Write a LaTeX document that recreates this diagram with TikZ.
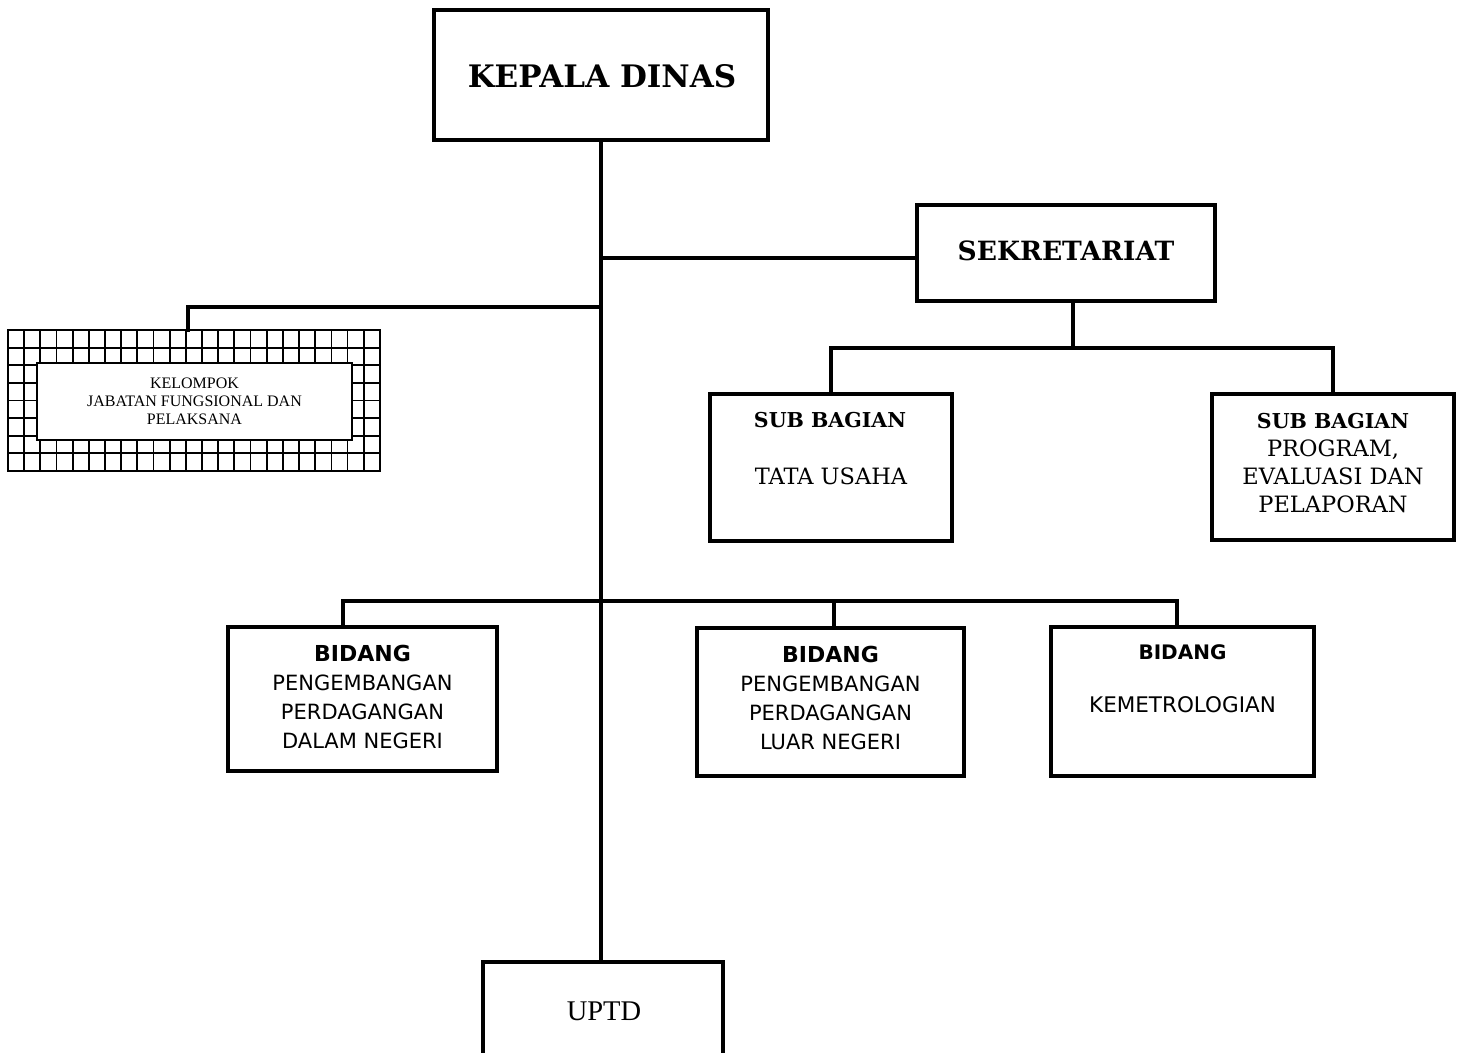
\documentclass[tikz,border=0pt]{standalone}
\usepackage{fontspec}
\setmainfont{Liberation Serif}
\newfontfamily\bookfont{DejaVu Serif}
\newfontfamily\verdfont{DejaVu Sans}
\usetikzlibrary{positioning}

\tikzset{
  unitbox/.style={draw, line width=3.5pt, inner sep=0pt},
  link/.style={line width=4pt, line cap=rect},
  booktxt/.style={font=\bookfont\fontsize{22.5}{28}\selectfont, align=center, inner sep=0pt},
  verdtxt/.style={font=\verdfont\fontsize{21}{29}\selectfont, align=center, inner sep=0pt},
}

\begin{document}
\begin{tikzpicture}[x=1pt,y=-1pt]
\useasboundingbox[fill=white] (0,0) rectangle (1463,1052);

% kepala dinas dan sekretariat
\node[unitbox, minimum width=334, minimum height=130] (kadis) at (601,75) {};
\node[font=\bookfont\bfseries\fontsize{31}{34}\selectfont] (kadistxt) at (602,76) {KEPALA DINAS};
\node[unitbox, minimum width=298, minimum height=96] (sek) at (1066,253) {};
\node[font=\bookfont\bfseries\fontsize{26.5}{30}\selectfont] (sektxt) at (1066,251) {SEKRETARIAT};

% sub bagian
\node[unitbox, minimum width=242, minimum height=147] (tu) at (831,467.5) {};
\node[booktxt] (tu1) at (830,420) {\fontsize{20.5}{28}\selectfont\bfseries SUB BAGIAN};
\node[booktxt] (tu2) at (831,476) {TATA USAHA};
\node[unitbox, minimum width=242, minimum height=146] (prog) at (1333,467) {};
\node[booktxt] (progtxt) at (1333,463) {{\fontsize{20.5}{28}\selectfont\bfseries SUB BAGIAN}\\PROGRAM,\\EVALUASI DAN\\PELAPORAN};

% kelompok jabatan fungsional
\draw[line width=1.8pt] (8,330) rectangle (380,471);
\foreach \i in {1,...,22}
  \draw[line width=1.8pt] (8+\i*16.17,330) -- (8+\i*16.17,471);
\foreach \j in {1,...,7}
  \draw[line width=1.8pt] (8,330+\j*17.6) -- (380,330+\j*17.6);
\node[draw, fill=white, line width=1.8pt, minimum width=315, minimum height=77,
  align=center, font=\fontsize{16}{18}\selectfont] (jf) at (194.5,401.5)
  {KELOMPOK\\JABATAN FUNGSIONAL DAN\\PELAKSANA};
\coordinate (jftop) at (188,330);

% bidang
\node[unitbox, minimum width=269, minimum height=144] (bid1) at (362.5,699) {};
\node[verdtxt] (bid1txt) at (362.5,697) {{\fontsize{22}{29}\selectfont\bfseries BIDANG}\\PENGEMBANGAN\\PERDAGANGAN\\DALAM NEGERI};
\node[unitbox, minimum width=267, minimum height=148] (bid2) at (830.5,702) {};
\node[verdtxt] (bid2txt) at (830.5,698) {{\fontsize{22}{29}\selectfont\bfseries BIDANG}\\PENGEMBANGAN\\PERDAGANGAN\\LUAR NEGERI};
\node[unitbox, minimum width=263, minimum height=149] (bid3) at (1182.5,701.5) {};
\node[verdtxt] (bid3a) at (1182.5,652) {\fontsize{20}{29}\selectfont\bfseries BIDANG};
\node[verdtxt] (bid3b) at (1182.5,705) {\fontsize{21.5}{29}\selectfont KEMETROLOGIAN};

% uptd
\node[unitbox, minimum width=240, minimum height=100] (uptd) at (603,1012) {};
\node[font=\fontsize{28.5}{30}\selectfont] (uptdtxt) at (604,1011) {UPTD};

% garis
\coordinate (sekin) at (917,258);
\coordinate (sekjoint) at (1073,348);
\coordinate (jfjoint) at (600,307);
\coordinate (bidbus) at (600,601);
\coordinate (b1) at (343,601);
\coordinate (b2) at (834,601);
\coordinate (b3) at (1177,601);
\draw[link] (kadis.south) -- (kadis.south |- uptd.north);
\draw[link] (kadis.south |- sekin) -- (sekin);
\draw[link] (jfjoint) -| (jftop);
\draw[link] (sekjoint |- sek.south) -- (sekjoint);
\draw[link] (tu.north) |- (sekjoint) -| (prog.north);
\draw[link] (b1) -- (b3);
\draw[link] (b1) -- (b1 |- bid1.north);
\draw[link] (b2) -- (b2 |- bid2.north);
\draw[link] (b3) -- (b3 |- bid3.north);
\end{tikzpicture}
\end{document}
